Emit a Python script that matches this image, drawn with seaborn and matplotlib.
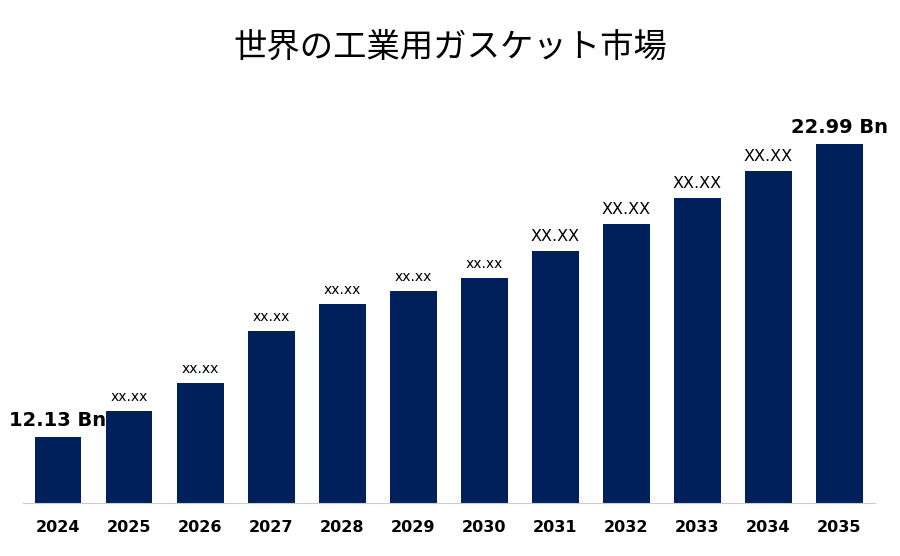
import matplotlib
matplotlib.use("Agg")
import matplotlib.pyplot as plt
import seaborn as sns
import pandas as pd

years = ['2024', '2025', '2026', '2027', '2028', '2029', '2030', '2031', '2032', '2033', '2034', '2035']
values = [12.13, 13.09, 14.13, 16.06, 17.06, 17.54, 18.02, 19.02, 20.02, 20.99, 21.99, 22.99]
labels = ['12.13 Bn', 'xx.xx', 'xx.xx', 'xx.xx', 'xx.xx', 'xx.xx', 'xx.xx', 'XX.XX', 'XX.XX', 'XX.XX', 'XX.XX', '22.99 Bn']

df = pd.DataFrame({'year': years, 'value': values})
color = '#00205b'

fig = plt.figure(figsize=(9, 5.56), dpi=100)
ax = fig.add_axes([0.025, 0.095, 0.947, 0.725])
sns.barplot(data=df, x='year', y='value', color=color, width=0.66, saturation=1, ax=ax)

ax.set_ylim(9.684, 24.6)
ax.set_xlim(-0.5, 11.5)
for i, (v, lab) in enumerate(zip(values, labels)):
    if 'Bn' in lab:
        fs, fw = 14, 'bold'
    elif lab.startswith('XX'):
        fs, fw = 11.5, 'normal'
    else:
        fs, fw = 10, 'normal'
    ax.text(i, v + 0.25, lab, ha='center', va='bottom', fontsize=fs, fontweight=fw,
            family='DejaVu Sans')

ax.set_xlabel('')
ax.set_ylabel('')
ax.set_yticks([])
for s in ['top', 'right', 'left']:
    ax.spines[s].set_visible(False)
ax.spines['bottom'].set_color('#cccccc')
ax.tick_params(axis='x', length=0, pad=12, labelsize=11.5)
for t in ax.get_xticklabels():
    t.set_fontweight('bold')

fig.text(0.5, 0.915, '世界の工業用ガスケット市場', ha='center', va='center',
         fontsize=24, family='Noto Sans CJK JP')

fig.savefig('out.png', dpi=100)
